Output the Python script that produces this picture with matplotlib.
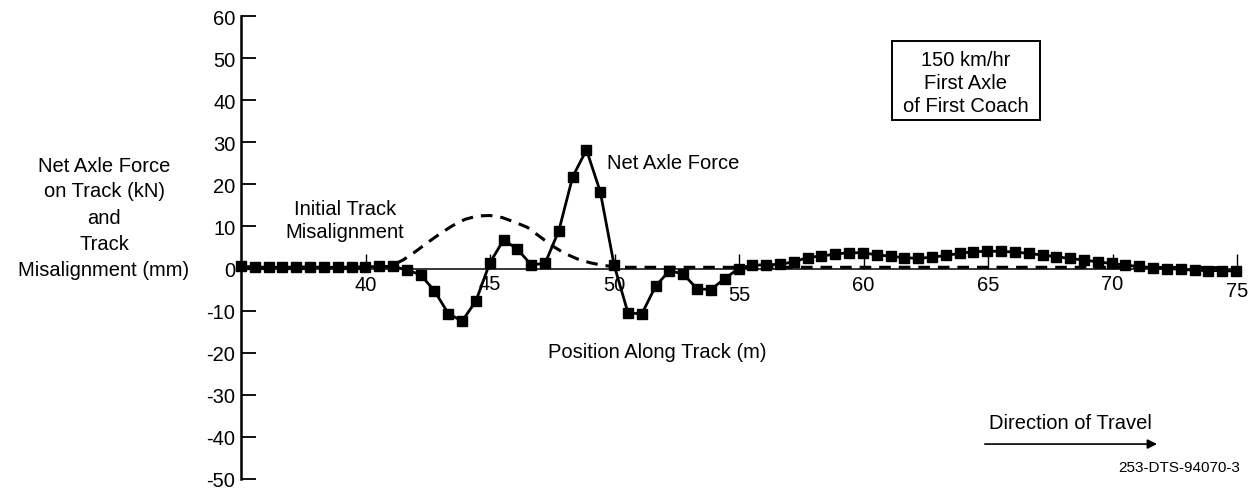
import numpy as np
import matplotlib.pyplot as plt
from matplotlib.patches import Rectangle

plt.rcParams['font.family'] = ['Liberation Sans', 'DejaVu Sans']
plt.rcParams['axes.unicode_minus'] = False

# net axle force (kN), one sample every 0.555 m starting at 35 m
net_force = [
    0.5, 0.4, 0.3, 0.3, 0.4, 0.4, 0.3, 0.3, 0.4, 0.4, 0.5, 0.5,
    -0.3, -1.5, -5.3, -10.7, -12.5, -7.7, 1.3, 6.8, 4.6, 0.9,
    1.2, 9.0, 21.8, 28.2, 18.2, 0.8, -10.5, -10.8, -4.2, -0.5,
    -1.3, -4.8, -5.0, -2.4, 0.0, 0.8, 0.9, 1.0, 1.6, 2.6,
    3.0, 3.4, 3.8, 3.7, 3.3, 2.9, 2.6, 2.4, 2.7, 3.1,
    3.6, 4.0, 4.1, 4.1, 3.9, 3.6, 3.2, 2.8, 2.4, 2.0,
    1.6, 1.2, 0.8, 0.5, 0.2, 0.0, -0.2, -0.4, -0.5, -0.5, -0.6,
]
force_start = 35.0
force_step = 0.555

# initial track misalignment (mm)
misalign_pos = [35.0, 40.5, 41.0, 41.5, 42.0, 42.5, 43.0, 43.5, 44.0, 44.5, 45.0,
                45.5, 46.0, 46.5, 47.0, 47.5, 48.0, 48.5, 49.0, 49.5, 50.0, 50.5, 70.0, 75.0]
misalign_mm = [0.0, 0.0, 0.6, 2.0, 4.0, 6.2, 8.3, 10.2, 11.7, 12.5, 12.6,
               12.1, 11.0, 9.8, 7.6, 5.4, 3.6, 2.3, 1.4, 0.8, 0.4, 0.3, 0.3, 0.2]

x_ticks = [40, 45, 50, 55, 60, 65, 70, 75]
x_tick_y = [-3.9, -3.6, -3.9, -6.2, -3.9, -3.9, -3.6, -5.3]
y_ticks = [60, 50, 40, 30, 20, 10, 0, -10, -20, -30, -40, -50]

ylabel_lines = ['Net Axle Force', 'on Track (kN)', 'and', 'Track', 'Misalignment (mm)']
box_lines = ['150 km/hr', 'First Axle', 'of First Coach']

W, H = 1257, 489
fs = 14.5


def put_lines(lines, x_px, y_px, step_px, **kw):
    # stack lines top to bottom at fixed pixel spacing
    for k, line in enumerate(lines):
        fig.text(x_px / W, 1 - (y_px + k * step_px) / H, line,
                 ha='center', va='center', fontsize=fs, **kw)


fig = plt.figure(figsize=(W / 100, H / 100), dpi=100)
ax = fig.add_axes([241 / W, 1 - 480 / H, 996 / W, 463 / H])

position = force_start + force_step * np.arange(len(net_force))
ax.plot(misalign_pos, misalign_mm, color='black', lw=2.2, dashes=(3.8, 2.6), clip_on=False)
ax.plot(position, net_force, color='black', lw=2.0, marker='s', markersize=7.5,
        clip_on=False)

ax.set_xlim(35, 75)
ax.set_ylim(-50, 60)

for s in ['top', 'right']:
    ax.spines[s].set_visible(False)
ax.spines['left'].set_linewidth(1.8)
ax.spines['bottom'].set_position(('data', 0))
ax.spines['bottom'].set_linewidth(1.1)

ax.set_yticks(y_ticks)
ax.tick_params(axis='y', direction='in', length=11, width=1.3, labelsize=fs, pad=4)
ax.set_xticks(x_ticks)
ax.set_xticklabels([])
ax.tick_params(axis='x', direction='in', length=11, width=1.0)
for xv, yv in zip(x_ticks, x_tick_y):
    ax.text(xv, yv, str(xv), ha='center', va='center', fontsize=fs)

ax.add_patch(Rectangle((61.14, 35.2), 5.95, 18.9, fill=False, lw=1.4, clip_on=False))
put_lines(box_lines, 966, 60, 23.5)

ax.text(49.7, 25.2, 'Net Axle Force', ha='left', va='center', fontsize=fs)
put_lines(['Initial Track', 'Misalignment'], 345, 210, 23)
ax.text(51.7, -19.7, 'Position Along Track (m)', ha='center', va='center', fontsize=fs)
ax.text(68.3, -36.5, 'Direction of Travel', ha='center', va='center', fontsize=fs)
ax.annotate('', xy=(71.9, -41.7), xytext=(64.76, -41.7),
            arrowprops=dict(arrowstyle='-|>', color='black', lw=1.2, mutation_scale=14))

put_lines(ylabel_lines, 104, 166, 26)
fig.text(1240 / W, 1 - 468 / H, '253-DTS-94070-3', ha='right', va='center', fontsize=11)

fig.savefig('out.png', dpi=100)
